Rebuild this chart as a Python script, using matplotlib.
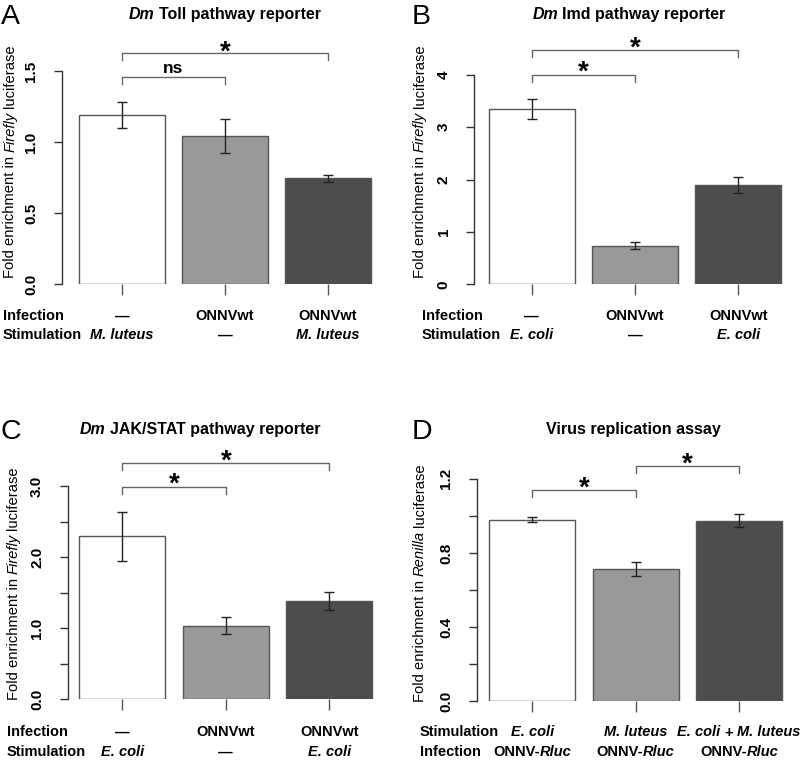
import matplotlib
matplotlib.use("Agg")
import matplotlib.pyplot as plt

plt.rcParams['font.family'] = ['Liberation Sans', 'DejaVu Sans']

W, H = 812, 760
DPI = 100

# ---------------- data ----------------
toll_vals = [1.19, 1.04, 0.745]
toll_lo = [1.10, 0.92, 0.72]
toll_hi = [1.285, 1.165, 0.77]

imd_vals = [3.34, 0.73, 1.90]
imd_lo = [3.15, 0.67, 1.75]
imd_hi = [3.54, 0.80, 2.04]

jak_vals = [2.30, 1.03, 1.38]
jak_lo = [1.95, 0.915, 1.255]
jak_hi = [2.64, 1.155, 1.505]

virus_vals = [0.978, 0.712, 0.974]
virus_lo = [0.965, 0.674, 0.940]
virus_hi = [0.992, 0.751, 1.008]

bar_colors = ['#ffffff', '#999999', '#4d4d4d']

fig = plt.figure(figsize=(W / DPI, H / DPI), dpi=DPI)
renderer = fig.canvas.get_renderer()

FS = 10.5
TFS = 11.5
YFS = 10.6
TICKFS = 11


def fx(px):
    return px / W


def fy(py):
    return 1 - py / H


def measure(s, weight, style, size):
    t = fig.text(0, 0, s, fontsize=size, fontweight=weight, fontstyle=style)
    bb = t.get_window_extent(renderer)
    t.remove()
    return bb.width


SPACE_CACHE = {}


def space_w(weight, style, size):
    key = (weight, style, size)
    if key not in SPACE_CACHE:
        SPACE_CACHE[key] = measure("x x", weight, style, size) - measure("xx", weight, style, size)
    return SPACE_CACHE[key]


def rich(x_px, y_px, pieces, size=FS, rotation=0, align='center', color='black'):
    """pieces: list of (text, weight, style, space_before)"""
    widths = []
    gaps = []
    for (s, w, st, sp) in pieces:
        widths.append(measure(s, w, st, size))
        gaps.append(space_w(w, 'normal', size) if sp else 0.0)
    total = sum(widths) + sum(gaps)
    if align == 'center':
        start = -total / 2
    elif align == 'left':
        start = 0
    else:
        start = -total
    pos = start
    for (s, w, st, sp), wd, g in zip(pieces, widths, gaps):
        pos += g
        if rotation == 0:
            fig.text(fx(x_px + pos), fy(y_px), s, fontsize=size, fontweight=w,
                     fontstyle=st, ha='left', va='center_baseline', color=color)
        else:
            fig.text(fx(x_px), fy(y_px - pos), s, fontsize=size, fontweight=w,
                     fontstyle=st, ha='left', va='center_baseline', rotation=90,
                     rotation_mode='anchor', color=color)
        pos += wd


def panel(letter, letter_xy, title_pieces, title_xy, axis_x, zero_y, top_y,
          c1, spacing, ymax, yticks, ylabels, vals, lo, hi, ylab_pieces, ylab_xy,
          brackets, rows, row_label_x):
    right_px = c1 + 2 * spacing + 60
    ax = fig.add_axes([fx(axis_x), fy(zero_y), (right_px - axis_x) / W,
                       (zero_y - top_y) / H])
    unit = spacing / 1.2
    x0 = 0.7 - (c1 - axis_x) / unit
    x1 = 0.7 + (right_px - c1) / unit
    ax.set_xlim(x0, x1)
    ax.set_ylim(0, ymax)
    centers = [0.7, 1.9, 3.1]
    ax.bar(centers, vals, width=1.0, color=bar_colors, edgecolor='#555555',
           linewidth=1.0, zorder=2)
    err_lo = [v - l for v, l in zip(vals, lo)]
    err_hi = [h - v for v, h in zip(vals, hi)]
    ax.errorbar(centers, vals, yerr=[err_lo, err_hi], fmt='none',
                ecolor='#222222', elinewidth=1.0, capsize=3.5, capthick=1.0,
                zorder=3)
    for s in ['top', 'right', 'bottom']:
        ax.spines[s].set_visible(False)
    ax.spines['left'].set_color('#333333')
    ax.spines['left'].set_linewidth(1.0)
    ax.spines['left'].set_bounds(0, ymax)
    ax.set_yticks(yticks)
    ax.set_yticklabels(ylabels, rotation=90, va='center', fontweight='bold',
                       fontsize=TICKFS)
    ax.tick_params(axis='y', length=6, width=1.0, color='#333333', pad=11)
    ax.set_xticks(centers)
    ax.set_xticklabels([])
    ax.tick_params(axis='x', length=8, width=1.0, color='#555555', pad=0)
    ax.patch.set_visible(False)

    def py2d(py):
        return (zero_y - py) / (zero_y - top_y) * ymax

    for (i, j, yb, txt, ty) in brackets:
        xa, xb = centers[i], centers[j]
        yl = py2d(yb)
        ylow = py2d(yb + 7)
        ax.plot([xa, xa, xb, xb], [ylow, yl, yl, ylow], color='#666666',
                lw=1.0, clip_on=False, zorder=4)
        if txt == '*':
            ax.text((xa + xb) / 2, py2d(ty + 5.5), '*', fontsize=20,
                    fontweight='bold', ha='center', va='center', clip_on=False)
        else:
            ax.text((xa + xb) / 2, py2d(ty), txt, fontsize=12.5, fontweight='bold',
                    ha='center', va='center', clip_on=False)

    fig.text(fx(letter_xy[0]), fy(letter_xy[1]), letter, fontsize=20.5,
             ha='left', va='center')
    rich(title_xy[0], title_xy[1], title_pieces, size=TFS)
    rich(ylab_xy[0], ylab_xy[1], ylab_pieces, size=YFS, rotation=90)

    cpx = [c1, c1 + spacing, c1 + 2 * spacing]
    for (label, y_px, entries) in rows:
        fig.text(fx(row_label_x), fy(y_px), label, fontsize=FS,
                 fontweight='bold', ha='left', va='center_baseline')
        for cx, ent in zip(cpx, entries):
            rich(cx, y_px, ent, size=FS)


B = 'bold'
N = 'normal'
I = 'italic'
DASH = [("\u2014", B, N, False)]
ONNV = [("ONNVwt", B, N, False)]
MLUT = [("M. luteus", B, I, False)]
ECOLI = [("E. coli", B, I, False)]
RLUC = [("ONNV-", B, N, False), ("Rluc", B, I, False)]
FIREFLY = [("Fold enrichment in", N, N, False), ("Firefly", N, I, True),
           ("luciferase", N, N, True)]
RENILLA = [("Fold enrichment in", N, N, False), ("Renilla", N, I, True),
           ("luciferase", N, N, True)]

# Panel A
panel('A', (1, 17), [("Dm", B, I, False), ("Toll pathway reporter", B, N, True)],
      (225, 13), 62, 284, 71, 122, 103, 1.5,
      [0, 0.5, 1.0, 1.5], ['0.0', '0.5', '1.0', '1.5'],
      toll_vals, toll_lo, toll_hi, FIREFLY, (9, 161),
      [(0, 1, 77.3, 'ns', 68), (0, 2, 53.3, '*', 47)],
      [("Infection", 315, [DASH, ONNV, ONNV]),
       ("Stimulation", 334, [MLUT, DASH, MLUT])], 3)

# Panel B
panel('B', (412, 17), [("Dm", B, I, False), ("Imd pathway reporter", B, N, True)],
      (629, 13), 474.3, 284.3, 74.7, 531.8, 103.3, 4,
      [0, 1, 2, 3, 4], ['0', '1', '2', '3', '4'],
      imd_vals, imd_lo, imd_hi, FIREFLY, (418.5, 161),
      [(0, 1, 74.7, '*', 67), (0, 2, 50.3, '*', 43)],
      [("Infection", 315, [DASH, ONNV, ONNV]),
       ("Stimulation", 334, [ECOLI, DASH, ECOLI])], 422)

# Panel C
panel('C', (1, 432), [("Dm", B, I, False), ("JAK/STAT pathway reporter", B, N, True)],
      (200, 428), 67.7, 699, 486, 122.3, 103.5, 3.0,
      [0, 0.5, 1.0, 1.5, 2.0, 2.5, 3.0], ['0.0', '', '1.0', '', '2.0', '', '3.0'],
      jak_vals, jak_lo, jak_hi, FIREFLY, (12, 583),
      [(0, 1, 487, '*', 479.5), (0, 2, 463.3, '*', 456)],
      [("Infection", 731, [DASH, ONNV, ONNV]),
       ("Stimulation", 751, [ECOLI, DASH, ECOLI])], 7)

# Panel D
panel('D', (412, 432), [("Virus replication assay", B, N, False)],
      (633, 428), 477, 701.3, 478.7, 532.3, 103.4, 1.2,
      [0, 0.2, 0.4, 0.6, 0.8, 1.0, 1.2], ['0.0', '', '0.4', '', '0.8', '', '1.2'],
      virus_vals, virus_lo, virus_hi, RENILLA, (418.5, 582.5),
      [(0, 1, 490, '*', 482.7), (1, 2, 466, '*', 458.7)],
      [("Stimulation", 731, [ECOLI, MLUT,
                             [("E. coli", B, I, False), ("+", B, N, True),
                              ("M. luteus", B, I, True)]]),
       ("Infection", 751, [RLUC, RLUC, RLUC])], 420)

fig.savefig('out.png', dpi=DPI)
